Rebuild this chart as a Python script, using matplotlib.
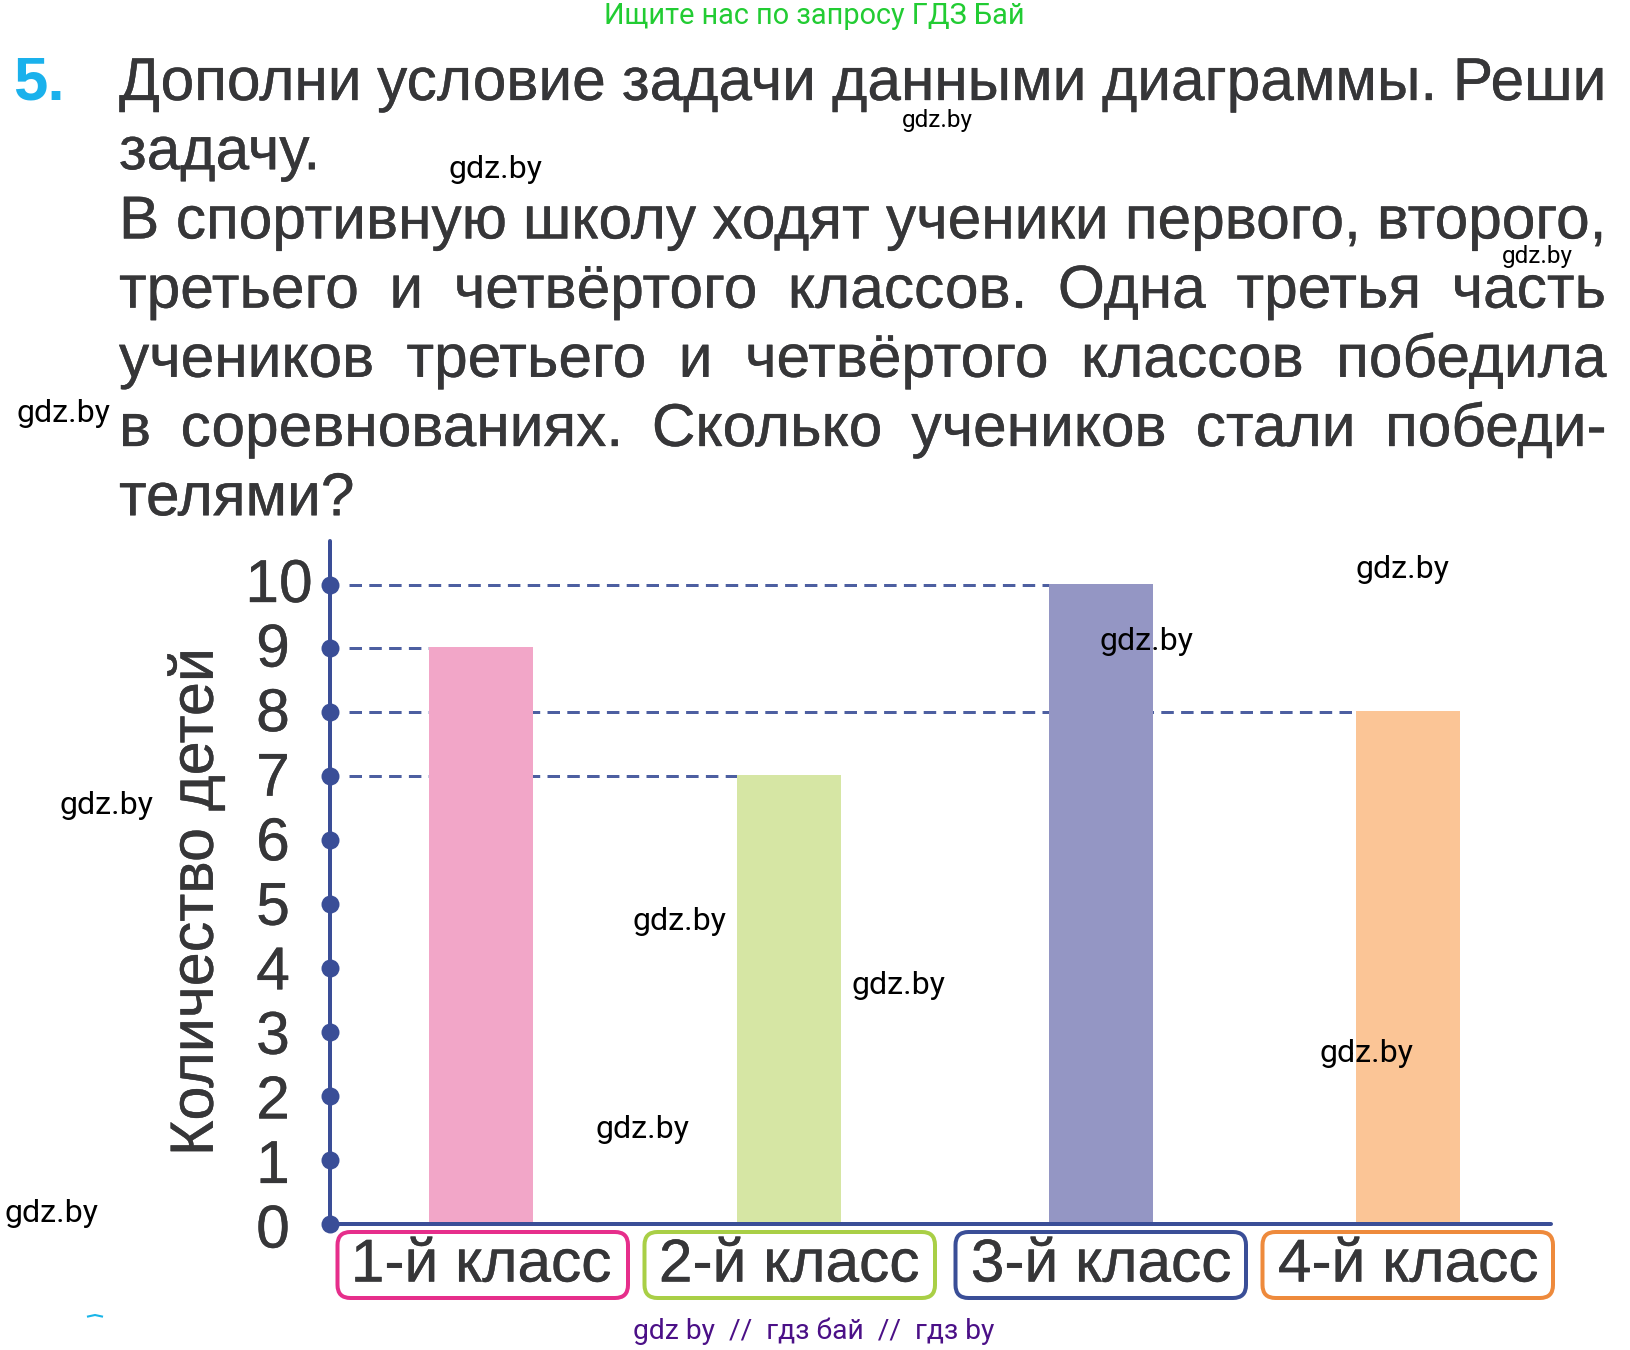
import matplotlib
matplotlib.use("Agg")
import matplotlib.pyplot as plt
import matplotlib.patheffects as pe
from matplotlib.patches import FancyBboxPatch
from matplotlib.transforms import ScaledTranslation

plt.rcParams['font.family'] = ['Roboto', 'DejaVu Sans']
plt.rcParams['lines.scale_dashes'] = False

# ---- data ----
categories = ['1-й класс', '2-й класс', '3-й класс', '4-й класс']
children = [9, 7, 10, 8]
y_ticks = list(range(0, 11))
y_label = 'Количество детей'
number_label = '5.'
body_lines = [
    'Дополни условие задачи данными диаграммы. Реши',
    'задачу.',
    'В спортивную школу ходят ученики первого, второго,',
    'третьего и четвёртого классов. Одна третья часть',
    'учеников третьего и четвёртого классов победила',
    'в соревнованиях. Сколько учеников стали победи-',
    'телями?',
]
justified = [True, False, True, True, True, True, False]
header = 'Ищите нас по запросу ГДЗ Бай'
footer = 'gdz by  //  гдз бай  //  гдз by'
wm_text = 'gdz.by'

# ---- style and layout (pixels) ----
W, H, DPI = 1631, 1350, 100
NAVY = '#3a4e97'
INK = '#363638'
SANS = ['Liberation Sans', 'DejaVu Sans']
HEAVY = [pe.withStroke(linewidth=0.25, foreground=INK)]
bar_colors = ['#f2a6c8', '#d6e6a4', '#9496c4', '#fbc596']
box_colors = ['#e62e8b', '#a9cf46', '#3a4e97', '#ee8a3c']
bar_centers = [481, 789, 1101, 1408]
bar_width = 103.6
box_lefts = [337.5, 644.5, 955.5, 1262.5]
box_width = 290.5
AX_L, AX_R, AX_T, AX_B = 330, 1551, 541, 1224
UNIT = 63.95
px = 72 / DPI

fig = plt.figure(figsize=(W / DPI, H / DPI), dpi=DPI, facecolor='white')
ax = fig.add_axes([AX_L / W, 1 - AX_B / H, (AX_R - AX_L) / W, (AX_B - AX_T) / H])
ax.set_xlim(AX_L, AX_R)
ax.set_ylim(0, (AX_B - AX_T) / UNIT)
ax.patch.set_alpha(0)
for s in ('top', 'right'):
    ax.spines[s].set_visible(False)
for s in ('left', 'bottom'):
    ax.spines[s].set_color(NAVY)
    ax.spines[s].set_linewidth(4 * px)
    ax.spines[s].set_capstyle('round')

# dashed guides end where their bar starts and run behind other bars
for c, v in zip(bar_centers, children):
    ax.plot([349, c - bar_width / 2], [v, v], color=NAVY, lw=3 * px,
            ls=(0, (12.5 * px, 7.3 * px)), zorder=1, dash_capstyle='butt', alpha=0.9)
ax.bar(bar_centers, children, width=bar_width - 2, color=bar_colors, edgecolor=bar_colors,
       zorder=2, linewidth=2 * px)
ax.plot([AX_L] * len(y_ticks), y_ticks, 'o', color=NAVY, ms=18 * px, mew=0,
        clip_on=False, zorder=4)

ax.set_yticks(y_ticks, [str(t) for t in y_ticks])
ax.tick_params(axis='y', length=0, pad=57 * px, labelsize=43.5, labelcolor=INK)
for t, lab in zip(y_ticks, ax.get_yticklabels()):
    lab.set_ha('center')
    lab.set_family(SANS)
    lab.set_path_effects(HEAVY)
    dy = -2 + t * 0.6
    dx = 6 if t == 10 else 0
    lab.set_transform(lab.get_transform() + ScaledTranslation(dx / DPI, dy / DPI, fig.dpi_scale_trans))

ax.set_xticks(bar_centers, categories)
ax.tick_params(axis='x', length=0, pad=57.5 * px, labelsize=43.5, labelcolor=INK)
for lab in ax.get_xticklabels():
    lab.set_va('baseline')
    lab.set_family(SANS)
    lab.set_path_effects(HEAVY)

ax.set_ylabel(y_label, fontsize=44, color=INK, family=SANS, va='center', path_effects=HEAVY)
ax.yaxis.set_label_coords((197 - AX_L) / (AX_R - AX_L), (AX_B - 902) / (AX_B - AX_T))

# overlay in figure pixels
ov = fig.add_axes([0, 0, 1, 1], zorder=5)
ov.set_xlim(0, W)
ov.set_ylim(H, 0)
ov.axis('off')
ov.patch.set_alpha(0)
renderer = fig.canvas.get_renderer()


def width_of(s, size, **kw):
    t = ov.text(0, 0, s, fontsize=size, **kw)
    w = t.get_window_extent(renderer).width
    t.remove()
    return w


def fit(s, target, **kw):
    return 100 * target / width_of(s, 100, **kw)


for left, col in zip(box_lefts, box_colors):
    ov.add_patch(FancyBboxPatch((left + 11, 1232 + 11), box_width - 22, 66 - 22,
                                boxstyle='round,pad=11,rounding_size=13',
                                fc='none', ec=col, lw=4 * px))

BODY = 43.5
LEFT, RIGHT = 119, 1606
ov.text(13, 100, number_label, fontsize=BODY + 1, fontweight='bold', color='#1ab1ec', va='baseline',
        family=SANS)
for i, (line, just) in enumerate(zip(body_lines, justified)):
    base = 100 + i * 69.2
    words = line.split(' ')
    if just:
        ws = [width_of(w, BODY, family=SANS) for w in words]
        gap = (RIGHT - LEFT - sum(ws)) / (len(words) - 1)
        x = LEFT
        for w, wd in zip(words, ws):
            ov.text(x, base, w, fontsize=BODY, color=INK, va='baseline', family=SANS, path_effects=HEAVY)
            x += wd + gap
    else:
        ov.text(LEFT, base, line, fontsize=BODY, color=INK, va='baseline', family=SANS, path_effects=HEAVY)

ov.text(814, 16, header, fontsize=fit(header, 420), color='#22cc33', ha='center', va='center')
ov.text(814, 1331, footer, fontsize=fit(footer, 362), color='#4b1087', ha='center', va='center')

big = fit(wm_text, 94)
small = fit(wm_text, 71)
wm_big = [(496, 169), (64, 413), (107, 805), (1403, 569), (1147, 641),
          (680, 921), (899, 985), (1367, 1053), (643, 1129), (52, 1213)]
wm_small = [(937, 120), (1537, 256)]
for x, y in wm_big:
    ov.text(x, y, wm_text, fontsize=big, color='black', ha='center', va='center')
for x, y in wm_small:
    ov.text(x, y, wm_text, fontsize=small, color='black', ha='center', va='center')

ov.plot([88, 95, 102], [1316.5, 1315, 1316.5], color='#19b5e8', lw=1.5)

fig.savefig('out.png', dpi=DPI, facecolor='white')
